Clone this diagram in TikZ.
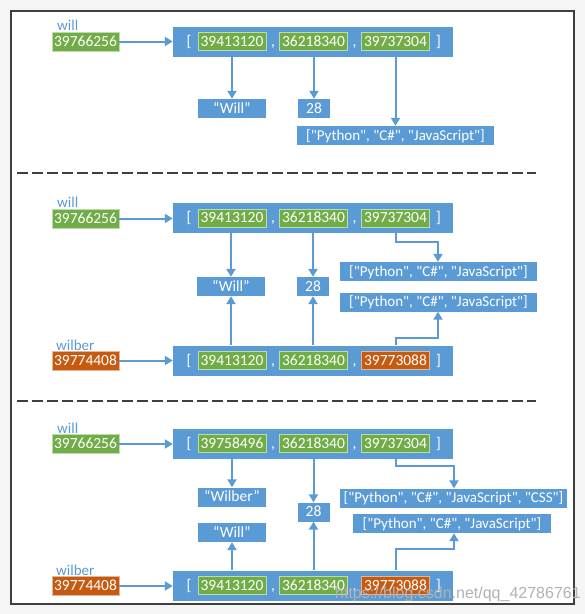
\documentclass[tikz,border=0pt]{standalone}
\usepackage{fontspec}
\setmainfont{Carlito}[Ligatures=TeXOff]
\newfontfamily\wmfont{Liberation Sans}
\usetikzlibrary{arrows.meta,calc}
\definecolor{cblue}{HTML}{5B9BD5}
\definecolor{cgreen}{HTML}{70AD47}
\definecolor{corange}{HTML}{C55A11}
\definecolor{cframe}{HTML}{3F3F3F}
\tikzset{
  txt/.style={inner sep=0pt, text height=9.5pt, text depth=0pt, font=\fontsize{15.5}{18}\selectfont},
  bigbox/.style={fill=cblue, minimum width=280pt, minimum height=30pt, inner sep=0pt},
  inbox/.style={txt, text=white, minimum width=68pt, minimum height=18pt, draw=white!55!#1, line width=0.7pt, fill=#1},
  varbox/.style={txt, text=white, minimum width=67pt, minimum height=19pt, draw=white!55!#1, line width=0.7pt, fill=#1},
  valbox/.style={txt, text=white, fill=cblue, minimum height=19pt},
  listbox/.style={valbox, font=\fontsize{15}{18}\selectfont},
  punct/.style={txt, text=white},
  varlabel/.style={inner sep=0pt, anchor=base west, text=cblue, font=\fontsize{15}{18}\selectfont},
  arr/.style={draw=cblue, line width=2pt, -{Triangle[width=9pt,length=8pt]}},
  sep/.style={draw=cframe, line width=2pt, dash pattern=on 10.5pt off 4.5pt},
}
\newcommand{\memrow}[6]{%
  \node[bigbox] (#1) at (313,#2) {};
  \node[inbox=cgreen] (#1a) at (232,#2) {#3};
  \node[inbox=cgreen] (#1b) at (313.5,#2) {#4};
  \node[inbox=#6] (#1c) at (395.5,#2) {#5};
  \node[punct] (#1l) at (189,#2) {[};
  \node[punct] (#1m) at (273,#2) {,};
  \node[punct] (#1n) at (354.5,#2) {,};
  \node[punct] (#1r) at (438.5,#2) {]};
}
\begin{document}
\begin{tikzpicture}[x=1pt,y=-1pt]
\useasboundingbox (0,0) rectangle (585,614);
\fill[black!4] (0,0) rectangle (585,614);
\draw[cframe, line width=2.5pt, fill=white] (11,11) rectangle (574,604);

% ---------- section 1 ----------
\node[varlabel] (lw1) at (57,30) {will};
\node[varbox=cgreen] (v1) at (85.5,41.5) {39766256};
\memrow{t1}{41.5}{39413120}{36218340}{39737304}{cgreen}
\node[valbox, minimum width=68pt] (s1) at (232,108.5) {“Will”};
\node[valbox, minimum width=32pt] (n1) at (314,108.5) {28};
\node[listbox, minimum width=197pt] (L1) at (395.5,135.5) {["Python", "C\#", "JavaScript"]};
\draw[arr] (v1.east) -- (t1.west |- v1.east);
\draw[arr] (s1.north |- t1.south) -- (s1.north);
\draw[arr] (n1.north |- t1.south) -- (n1.north);
\draw[arr] (t1c.south |- t1.south) -- (t1c.south |- L1.north);

\draw[sep] (17,173) -- (536,173);

% ---------- section 2 ----------
\node[varlabel] (lw2) at (57,207) {will};
\node[varbox=cgreen] (v2) at (85.5,218.5) {39766256};
\memrow{u1}{218}{39413120}{36218340}{39737304}{cgreen}
\node[varlabel] (lb2) at (56,350) {wilber};
\node[varbox=corange] (v3) at (85.5,360.5) {39774408};
\memrow{u2}{360.5}{39413120}{36218340}{39773088}{corange}
\node[valbox, minimum width=68pt] (s2) at (231,286.5) {“Will”};
\node[valbox, minimum width=32pt] (n2) at (313,286.5) {28};
\node[listbox, minimum width=197pt] (L2a) at (438.5,271.5) {["Python", "C\#", "JavaScript"]};
\node[listbox, minimum width=197pt] (L2b) at (438.5,302) {["Python", "C\#", "JavaScript"]};
\coordinate (e2a) at (438,242);
\coordinate (e2b) at (438,338);
\draw[arr] (v2.east) -- (u1.west |- v2.east);
\draw[arr] (v3.east) -- (u2.west |- v3.east);
\draw[arr] (s2.north |- u1.south) -- (s2.north);
\draw[arr] (n2.north |- u1.south) -- (n2.north);
\draw[arr] (u1c.south |- u1.south) |- (e2a) -- (e2a |- L2a.north);
\draw[arr] (s2.south |- u2.north) -- (s2.south);
\draw[arr] (n2.south |- u2.north) -- (n2.south);
\draw[arr] (u2c.north |- u2.north) |- (e2b) -- (e2b |- L2b.south);

\draw[sep] (17,401) -- (536,401);

% ---------- section 3 ----------
\node[varlabel] (lw3) at (57,433) {will};
\node[varbox=cgreen] (v4) at (85.5,444) {39766256};
\memrow{w1}{443.5}{39758496}{36218340}{39737304}{cgreen}
\node[varlabel] (lb3) at (56,575) {wilber};
\node[varbox=corange] (v5) at (85.5,586) {39774408};
\memrow{w2}{585.5}{39413120}{36218340}{39773088}{corange}
\node[valbox, minimum width=68pt] (s3) at (232,497) {“Wilber”};
\node[valbox, minimum width=68pt] (s4) at (232,532.5) {“Will”};
\node[valbox, minimum width=32pt] (n3) at (313.5,512) {28};
\node[listbox, minimum width=227pt] (L3a) at (453.5,498) {["Python", "C\#", "JavaScript", "CSS"]};
\node[listbox, minimum width=198pt] (L3b) at (452,523.5) {["Python", "C\#", "JavaScript"]};
\coordinate (e3a) at (454,466);
\coordinate (e3b) at (454,549);
\draw[arr] (v4.east) -- (w1.west |- v4.east);
\draw[arr] (v5.east) -- (w2.west |- v5.east);
\draw[arr] (s3.north |- w1.south) -- (s3.north);
\draw[arr] (n3.north |- w1.south) -- (n3.north);
\draw[arr] (w1c.south |- w1.south) |- (e3a) -- (e3a |- L3a.north);
\draw[arr] (s4.south |- w2.north) -- (s4.south);
\draw[arr] (n3.south |- w2.north) -- (n3.south);
\draw[arr] (w2c.north |- w2.north) |- (e3b) -- (e3b |- L3b.south);

% watermark
\node[inner sep=0pt, anchor=base west, text=black!30, font=\wmfont\fontsize{16}{18}\selectfont] (wm) at (335,598) {https://blog.csdn.net/qq\_42786761};
\end{tikzpicture}
\end{document}
